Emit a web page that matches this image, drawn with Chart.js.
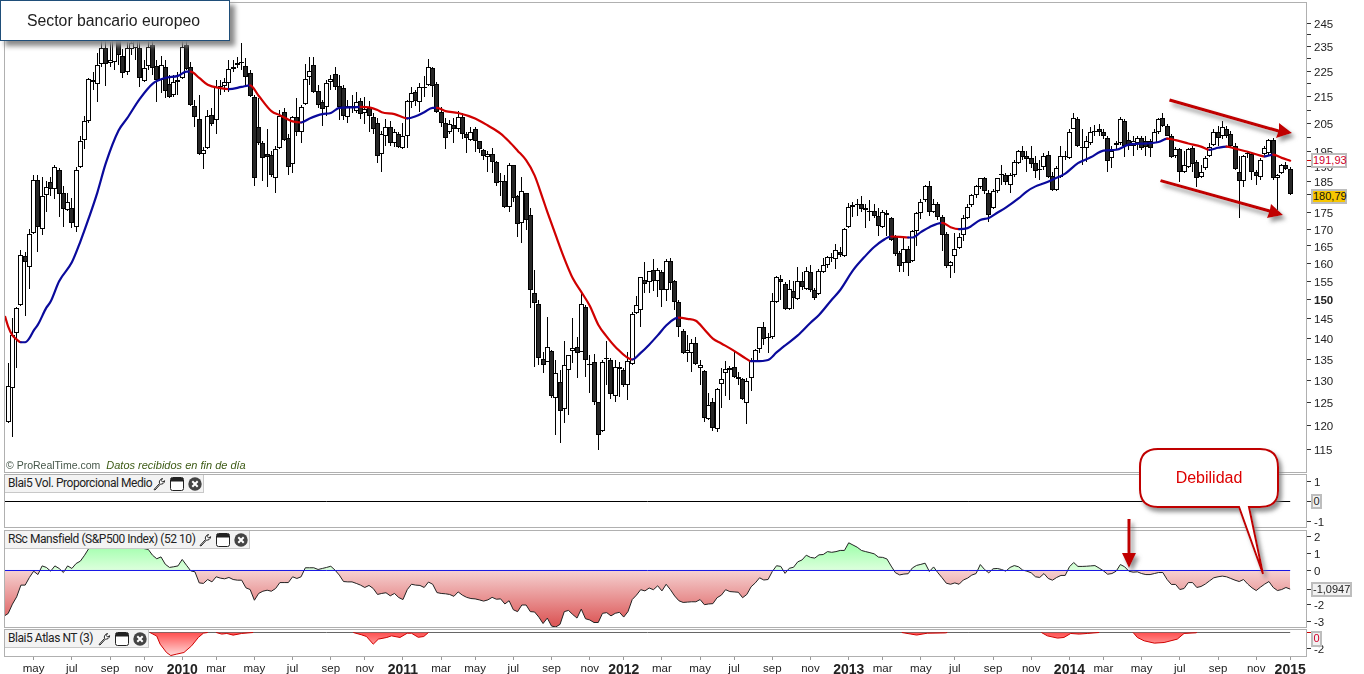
<!DOCTYPE html>
<html><head><meta charset="utf-8">
<script src="https://cdn.jsdelivr.net/npm/chart.js@4/dist/chart.umd.min.js"></script>
<style>
html,body{margin:0;padding:0;background:#fff;width:1364px;height:674px;overflow:hidden;font-family:"Liberation Sans",Arial,sans-serif}
canvas{position:absolute;left:0}
.frame{position:absolute;left:4px;width:1303px;border:1px solid #b0b0b0;box-sizing:border-box;pointer-events:none}
.hdr{position:absolute;left:5px;background:#f3f3f3;border-right:1px solid #c8c8c8;border-bottom:1px solid #c8c8c8;box-sizing:border-box;font-family:Roboto,"Liberation Sans",sans-serif;font-size:12px;letter-spacing:-.45px;color:#222;line-height:17px;padding-left:3px;white-space:nowrap}
.hdr svg{position:absolute;top:2px}
.val{position:absolute;left:1311px;height:15px;border:2px solid #bdbdbd;box-sizing:border-box;font-size:11px;line-height:11px;text-align:center;background:#f1f1f1;color:#222;white-space:nowrap}
#title{position:absolute;left:0;top:0;width:230px;height:41px;background:#fff;border:1px solid #1f4e79;box-sizing:border-box;box-shadow:5px 5px 5px #8a8a8a;font-size:15.8px;color:#222;line-height:40px;padding-left:26px}
#foot{position:absolute;left:6px;top:459px;font-size:10.5px;line-height:13px;color:#46574a;white-space:nowrap}
#foot i{color:#3c5a14;font-size:11px;margin-left:6px}
#over{position:absolute;left:0;top:0}
</style></head><body>
<canvas id="cMain" width="1364" height="472" style="top:0"></canvas>
<canvas id="cVol" width="1364" height="53" style="top:474px"></canvas>
<canvas id="cRs" width="1364" height="97" style="top:530px"></canvas>
<canvas id="cAtlas" width="1364" height="45" style="top:629px"></canvas>
<div class="frame" style="top:2px;height:471px"></div>
<div class="frame" style="top:474px;height:54px"></div>
<div class="frame" style="top:530px;height:98px"></div>
<div class="frame" style="top:629px;height:28px"></div>
<div id="foot">© ProRealTime.com<i>Datos recibidos en fin de día</i></div>
<div id="hdrs"></div>
<div class="val" style="top:153px;width:36px;color:#d0002a;background:#fff">191,93</div>
<div class="val" style="top:189px;width:36px;color:#111;background:#f7c600">180,79</div>
<div class="val" style="top:494px;width:11px">0</div>
<div class="val" style="top:582px;width:41px">-1,0947</div>
<div class="val" style="top:631px;width:11px;height:16px;color:#d0002a">0</div>
<svg id="over" width="1364" height="674" xmlns="http://www.w3.org/2000/svg">
<defs><filter id="sh" x="-20%" y="-20%" width="150%" height="150%"><feDropShadow dx="3" dy="4" stdDeviation="2" flood-color="#777" flood-opacity=".8"/></filter></defs>
<g filter="url(#sh)" fill="#c00000">
<polygon points="1170,98.6 1169,101.4 1278,132.5 1276,138 1292,133 1279,123 1279,129.5"/>
<polygon points="1161,179.2 1160,182 1269,212.5 1267,218 1283,215 1271,204 1270,209.5"/>
<polygon points="1127.5,519 1130.5,519 1130.5,553 1136,553 1129,568 1122,553 1127.5,553"/>
<path d="M1158 449H1260Q1278 449 1278 467V491Q1278 507 1260 507H1249L1263 574L1239 507H1158Q1140 507 1140 489V467Q1140 449 1158 449Z" fill="#fff" stroke="#c00000" stroke-width="2"/>
</g>
<text x="1209" y="483" text-anchor="middle" font-family="Liberation Sans" font-size="16" fill="#dd0000">Debilidad</text>
</svg>
<div id="title">Sector bancario europeo</div>
<script>
// ---- weekly candles (euro-zone bank sector index) ----
const candleColor =
 "WWWWBWWBWW"+"BWBBWBWWWW"+"WWWBWWBBWW"+"WBWWBBWBBW"+"BWBBBBWWBW"+"WWWWWWBBBB"+
 "BBBWWBBWBW"+"WWBBBWWBBB"+"WBWBWBBBWW"+"BWBWWWBWWW"+"BBBBWBWBBW"+"BBBWBBWBWB"+
 "BWBBBBBWBW"+"BWWWBWBBBB"+"WBBWBBWWWW"+"BWBWBWBBBB"+"WWBWBWBWWW"+"WBBBWWWWBW"+
 "WWBBWBWBWB"+"BWWWWWBWWB"+"WBBWBBWBBB"+"BWBWWWWBWB"+"BBWWWWWWWW"+"BBWWWBWWWB"+
 "BBBBWBBWWW"+"WWBBWWWBBB"+"WWWBBWWBBB"+"WWBBBWBWWB"+"BWWWWBWBBB"+"BWBBBWWWBW"+"WBB";
const bodyHigh = [
128.7,140.8,147.9,162.5,162.2,168.4,185.6,185.6,180.2,183.1,
184.7,189.8,188.9,181.1,178.5,176.6,188.9,198.6,205.8,221.9,
221.5,227.5,234.6,234.6,229.6,240,237.9,231.2,234.6,236.7,
237.9,234.6,226.3,235,235.8,227.1,227.5,226.7,220,220.8,
221.5,235,235.8,226.7,211.5,206.5,195.7,207.7,208.1,218.8,
219.2,220.8,225.8,226.7,228.3,228.8,227.1,224.2,215,203.6,
197.9,194.4,194,196.1,207.7,209.2,200,207.3,207.3,211.2,
221.9,225,227.5,217.3,213.1,220.4,221.9,223.8,219.2,218.5,
211.5,211.5,213.1,213.5,210.4,210.8,207.3,205.4,201.1,203.9,
203.9,201.8,201.4,200.4,213.5,216.5,216.9,218.8,218.8,226.7,
226.3,220,209.2,205.4,205,204.6,207.3,207.3,201.1,202.1,
203.2,198.6,195.7,194.4,194.4,191.4,185,185.3,190.5,190.5,
180.2,181.8,181.1,174.4,151.8,148.9,135,138,137,131.7,
129.6,133.6,136,137.8,138,148.9,148.2,133.8,134.3,125,
134.3,135.3,134.8,133.1,133.1,132.4,134.5,146.3,148.7,156.1,
155.3,157.8,158,158,157.5,160.8,160.8,155,149.5,141.8,
137.3,138.8,139,133.6,132.2,124.4,125.2,128,130.3,132.7,
132.9,133.1,130.8,130.3,129.9,134.5,137.3,143,143,140.5,
149.7,156.1,155.6,154.2,152.9,152.4,155,155,157.8,157.5,
152.6,157.8,159.4,161.7,161.9,163.9,163.3,170,176.9,177.3,
177.9,177.9,176.6,175.6,175.6,174,175.3,175,173.4,167.5,
163,164.2,164.2,169.4,175,178.5,183.4,183.4,177.9,177.9,
173.8,168.4,160.3,164.2,167.5,173.4,176.9,180.5,183.4,186,
186,181.4,181.8,186,187.6,187.3,187.3,191.4,195.4,195.4,
193.4,192.7,191.1,189.2,193.4,194,186.9,189.5,193.4,193.7,
202.1,207,206.5,196.8,198.6,201.8,202.5,202.9,201.8,200,
195.4,197.9,206.5,205.8,199.3,198.9,200,200,198.9,198.9,
201.8,206.5,206.9,204.3,200.7,196.1,196.1,190.5,196.1,196.4,
191.4,188.2,192.7,196.8,202.1,201.8,203.6,203.2,201.4,197.1,
188.2,193.4,194.7,194.4,188.2,192.1,196.4,199.3,199.3,187.3,
190.5,190.5,189.2];
const bodyLow = [
120.7,128.3,141.5,148.7,160.3,158.9,168.8,170.6,170,180.5,
182.7,182.4,180.8,176.3,176,171.9,170.6,189.8,199.3,205.8,
220.8,220,227.9,227.9,228.3,228.8,231.7,224.2,224.6,233.8,
234.6,222.3,221.2,227.1,226.3,221.5,221.5,217.3,215,215.8,
220.8,222.3,225.8,211.9,207.3,194.4,194.4,196.4,205,206.2,
218.8,219.2,220.4,225.8,227.5,228.3,222.7,215.4,186.3,197.9,
192.7,193.1,187,186.3,196.4,199.3,189.8,190.8,201.8,201.8,
212.3,222.7,216.9,211.9,210.4,211.2,220.8,218.8,211.2,207.7,
207.3,210.8,209.6,208.5,208.9,207.7,203.2,193.4,194.4,200.7,
198.2,198.2,196.8,196.4,200.7,213.1,213.5,213.1,218.5,219.6,
219.2,209.2,205.4,200,201.8,203.2,202.9,201.1,200,199.3,
198.9,196.1,193.4,193.1,191.4,184.4,184.7,176.9,176.9,179.8,
171.6,171.9,172.8,152.6,149.2,135.3,133.6,134.3,126.4,125.9,
123.1,123.5,132.4,137,136.5,136.8,134.8,133.6,125,118,
118.8,135,126.8,126.4,132.7,128.9,128.9,133.8,146.6,147.4,
154.2,154.7,155,155,152.6,152.6,154.5,149.5,142.8,136.5,
136.5,136.5,133.8,132.9,121.6,121.4,119.5,119.2,129.2,131.7,
132.4,130.8,130.3,125.7,124.8,130.6,134.5,137.5,140,140.3,
140.3,149.5,154.7,147.6,147.6,150.5,150.3,153.4,152.9,152.6,
150.5,151.6,157.5,159.4,161.7,161.1,162.5,162.2,170.6,176.9,
177.3,176.3,176,175.3,174,170.9,170.6,174.4,166.9,162.8,
159.2,160,160,160.6,169.4,175,178.9,175.3,175.3,173.8,
168.1,159.2,159.2,162.2,164.4,168.1,173.4,177.3,180.5,183.1,
181.8,174.4,176.6,181.8,187.3,184.7,184,187,191.1,193.1,
192.4,190.8,188.6,188.9,189.8,186.6,182.1,182.1,186.6,193.4,
192.7,203.2,197.1,196.4,196.4,198.2,201.8,201.8,200.4,191.8,
192.7,197.5,197.9,197.1,197.1,197.1,197.9,196.4,196.8,196.4,
198.2,201.8,204.3,200.7,193.1,193.4,188.2,188.2,189.8,190.8,
186,186.6,189.5,193.7,197.5,200,200.4,200.7,197.1,189.2,
185,185,194.4,188.2,186.9,186.6,194.4,194.7,186,186,
187.9,189.2,180.79];
const wickHigh = [
134.1,145.3,148,163.9,163.3,170,187.3,187.3,186.6,185,
186.6,190.5,189.5,183.4,181.4,179.8,189.8,200.7,207.9,222.3,
224.6,232.5,238.7,238.7,237.1,242.1,242.1,233.8,237.1,240,
240.8,237.9,229.6,237.9,238.7,229.6,231.2,229.6,223.5,223.5,
224.6,237.9,238.7,228.8,213.8,215.8,196.8,210,210.8,221.5,
221.5,222.3,229.6,229.6,230.8,236.7,230.4,225.4,215.8,214.6,
198.9,203.2,195.4,197.1,210,210.8,201.4,207.9,214.6,211.9,
228,230.8,230.8,219.6,213.8,221.5,223.5,226.7,223.5,219.6,
213.8,215.8,216.9,214.6,215,213.5,208.9,206.9,202.5,206.5,
205.8,203.2,201.8,205.4,213.8,218.8,217.7,220.4,223.1,230,
226.7,220.8,211.2,206.9,206.2,206.9,209.6,208.9,202.1,203.6,
203.6,198.9,196.1,195.4,196.4,191.8,187.9,187.3,191.1,190.5,
180.5,186.6,181.1,176.6,158,150,136.8,145.5,137.3,134.8,
132.4,139.3,136,145.3,140.3,152.4,148.7,136,136.3,125,
134.8,139.5,135.3,134.8,134.3,132.9,136.8,146.8,151.1,156.1,
160.3,157.8,161.1,158.6,158,161.1,161.4,155.3,150,142.3,
141,139.8,140.3,134.8,132.4,127.1,125.9,128.2,132.9,134.5,
133.4,137,132,130.6,130.6,135.3,137.5,143,144.3,141.5,
151.8,156.4,156.7,154.7,155.3,155,158.9,157.5,158.9,159.4,
153.2,158.3,161.4,162.2,163.1,165.6,164.7,170.3,178.2,178.5,
179.2,180.2,177.6,178.9,177.9,176.6,176,176,173.8,168.1,
163.6,167.5,165,169.7,175.3,179.2,184,185,179.2,178.5,
174.4,169.1,160.8,168.8,168.8,174.4,177.6,180.8,184,186.3,
186.6,182.1,182.4,186.3,190.5,187.9,187.9,192.1,195.7,197.1,
195.4,197.1,193.7,192.1,194.7,195.4,188.2,190.2,197.1,195.4,
202.9,208.9,207.3,203.2,200.7,203.6,204.6,205,202.9,200.7,
197.1,198.9,207.3,206.5,201.8,200.4,200.7,200.7,200.7,199.6,
203.2,206.9,208.9,205,201.4,196.8,196.4,195.4,196.4,197.1,
192.1,190.5,193.7,197.9,203.2,204.3,205.8,204.3,202.5,197.9,
193.7,194,195.4,195,188.9,192.7,197.1,199.6,200,187.6,
190.8,191.4,189.8];
const wickLow = [
120.5,117.6,132.9,148.4,145.8,152.9,168.4,163.3,168.1,175.3,
180.2,179.2,173.8,170.6,175.6,170.3,169.1,189.5,196.1,205.4,
217.7,213.1,226.7,219.2,226.7,225.4,227.5,222.3,223.5,231.7,
229.6,218.8,220.8,225.4,223.5,213.1,216.5,214.6,214.6,215,
215.8,221.9,225.4,211.5,203.6,194,189.2,196.1,204.3,201.4,
215.8,216.9,216.9,224.6,226.3,225.4,219.2,215,183.4,197.5,
185,183.1,186.6,181.4,196,198.9,187.3,187.9,200.7,197.9,
211.9,219.6,216.5,210.8,204.3,207.7,217.7,217.7,206.2,206.2,
205.4,208.9,208.9,206.5,205,201.8,201.4,191.1,188.3,197.1,
197.1,196.8,196.4,196.1,196.4,210.8,211.5,209.2,215,219.2,
215,208.9,203.6,196.1,201.1,198.2,202.1,199.6,194.7,198.6,
195,194.7,192.1,188.2,187.9,183.4,180.2,176.6,175.3,178.5,
167.5,165.9,169.7,147.9,133.1,133.6,131.7,134.3,125.9,118,
116.3,120.5,122.2,134.1,130.6,136.8,130.8,127.1,124.4,114.8,
118.6,128.9,125.7,125.2,126.2,128.5,125.5,133.6,146.3,143,
151.8,151.8,152.4,150.8,148.2,149.7,152.6,147.4,140.5,136.3,
134.3,132,133.6,128.9,120.7,121.2,118.8,118.6,123.7,126.4,
125.5,130.6,128.9,125.5,120.3,127.5,134.3,136.5,138.5,136.5,
140,149.2,150,147.4,147.4,147.6,150,152.6,152.6,152.1,
150,151.3,157.2,158.6,160.3,158.3,161.7,161.7,170.3,173.8,
174,175.3,170.3,172.5,173.4,167.8,170.3,167.8,166.6,162.2,
157.5,157.5,156.4,160.3,165,173.1,178.5,174,175,172.8,
163.6,158.6,155.8,157.2,164.2,166.6,173.1,176.9,179.8,182.4,
180.8,172.2,176.3,181.4,184,184,181.4,186.6,190.8,192.1,
188.2,189.5,186.3,185.6,188.9,186.3,181.8,181.8,186.3,192.1,
192.4,202.9,196.8,190.5,191.4,197.5,200.7,200.7,199.6,188.2,
189.5,195.7,197.5,193.1,195.7,193.7,195.7,195.7,193.7,193.1,
197.9,201.4,203.9,200.4,192.7,192.7,184.7,187.9,189.5,188.2,
183.1,186.3,188.9,193.1,197.1,197.1,199.6,200,196.4,188.9,
173.4,183.1,192.7,185.6,184,185.6,194,193.7,185.6,176,
187.6,188.9,180.5];
// ---- moving average, sampled where the curve bends ----
const maWeeks = [-0.7,0,1,2,3,4,5,6,7,9,10,12,15,17,19,21,23,26,28,31,34,37,40,42,43,45,47,50,52,55,57,59,62,64,67,69,71,74,76,78,81,83,85,87,88,91,94,96,98,100,101,103,106,110,113,116,118,120,122,124,126,127,129,131,133,135,137,139,141,143,147,149,151,153,155,157,158,160,162,164,166,168,171,174,175,176,179,181,183,186,189,191,194,196,199,202,204,206,208,210,212,213,215,217,220,222,224,226,229,231,233,235,238,240,242,244,246,249,252,255,258,261,264,268,271,273,275,278,281,283,285,287,289,292,295,296,298,300,302];
const maValues = [145.5,143,140.8,139.8,139.1,139.1,140.1,142,143.5,147.9,149.5,155,160.3,166.3,173.4,181.4,191.1,202.5,206.9,214.2,220,222.3,223.1,224.8,224.8,222.3,219.6,218.3,217.9,218.8,219.4,215.4,209.6,208.1,205.8,205.4,206.9,208.5,208.9,210.8,211,211.2,211,210,209.2,208.5,206.9,207.7,209.2,210.8,210.8,209.6,208.9,206.9,204.3,201.4,198.6,195.4,192.1,187,179.2,175.3,168.1,161.4,155.8,152.1,148.4,143.5,140.5,138,134.9,136.5,138.5,140.8,143.3,145,145.3,145,144.5,142.3,140,138.8,137,135,134.5,134.5,134.8,136.6,138.3,140.8,144,146,150,152.6,158,162.2,164.7,166.6,167.8,167.7,167.5,167.5,169.1,170.6,171.9,170.6,170,170.3,172.8,173.4,175,176.6,179.5,181.8,183.4,184.4,185.6,187.6,191.1,193.1,195.4,195.7,197.5,197.9,198.4,199.6,199.1,197.9,196.8,195.7,196.4,196.8,196.1,195,193.7,193.4,194,192.9,191.93];
// ---- RSc Mansfield, one value per week ----
const rsAtLeftEdge = -2.65;
const rsValues = [
-2.53,-1.98,-1.55,-0.86,-0.86,-0.41,-0.04,-0.24,0.27,0.18,
-0.04,0.27,0.12,-0.12,0.27,0.12,0.41,0.55,0.9,1.3,
1.6,1.8,1.9,1.7,1.9,2.1,1.9,1.8,1.7,1.9,
1.8,1.7,1.29,1.24,0.9,0.69,0.8,0.37,0.18,0.22,
0.27,0.65,0.31,-0.02,-0.08,-0.73,-0.76,-0.53,-0.67,-0.37,
-0.45,-0.49,-0.41,-0.53,-0.57,-0.57,-1.02,-1.12,-1.75,-1.35,
-1.22,-1.16,-1.22,-1.06,-0.71,-0.71,-0.71,-0.37,-0.47,-0.37,
0.16,0.16,0.16,0.06,0.12,0.18,0.25,0.02,-0.27,-0.65,
-0.67,-0.67,-0.76,-0.86,-1,-0.88,-1.06,-1.41,-1.35,-1.31,
-1.49,-1.35,-1.59,-1.71,-1.13,-0.81,-0.86,-0.88,-1,-0.68,
-0.81,-1.3,-1.35,-1.37,-1.41,-1.52,-1.26,-1.45,-1.58,-1.65,
-1.67,-1.73,-1.8,-1.73,-1.58,-1.69,-1.67,-1.97,-1.78,-2.31,
-2.42,-2.03,-2.03,-2.42,-2.44,-2.74,-3.12,-2.8,-3.27,-3.32,
-3.17,-2.42,-2.35,-2.59,-2.8,-2.27,-2.84,-2.91,-3.06,-3.06,
-2.52,-2.48,-2.67,-2.52,-2.46,-2.74,-2.42,-1.71,-1.45,-1.13,
-1.2,-1.03,-1.13,-0.9,-1.2,-0.81,-1.13,-1.5,-1.78,-1.88,
-1.86,-1.84,-1.84,-1.71,-2.01,-1.97,-1.95,-1.6,-1.45,-1.13,
-1.24,-1.26,-1.28,-1.6,-1.41,-0.96,-0.73,-0.43,-0.56,-0.53,
-0.06,0.28,0.24,-0.17,0.13,0.19,0.51,0.62,0.9,0.77,
0.73,0.92,0.94,1.11,1.07,1.11,1.18,1.18,1.63,1.5,
1.37,1.18,1.11,1.05,0.98,0.79,0.77,0.68,0.26,-0.13,
-0.26,-0.21,-0.19,0.15,0.3,0.36,0.43,-0.06,0.21,-0.13,
-0.43,-0.75,-0.81,-0.73,-0.81,-0.56,-0.45,-0.27,-0.18,0.35,
0.06,-0.14,0.1,0.12,0.06,-0.04,0.18,0.29,0.22,0.02,
-0.04,-0.14,-0.37,-0.41,-0.18,-0.47,-0.57,-0.41,-0.29,-0.29,
0.22,0.47,0.24,0.24,0.25,0.27,0.29,0.14,-0.02,-0.22,
-0.18,-0.04,0.35,0.22,-0.04,-0.1,-0.08,-0.18,-0.24,-0.24,
-0.18,-0.12,-0.12,-0.53,-0.82,-0.82,-1.12,-1.06,-0.71,-0.71,
-1,-0.94,-0.8,-0.61,-0.43,-0.37,-0.33,-0.37,-0.47,-0.57,
-0.65,-0.53,-0.8,-1.02,-1.18,-0.98,-0.8,-0.65,-1,-1.18,
-1.12,-1,-1.0947];
// ---- Blai5 Atlas NT, sampled; null separates the episodes ----
const atlasWeeks = [33.4,35,35.8,37.3,38.3,39.7,41.4,43.2,44.8,46,47,48, 49,50.3,51.5,53,55,57.7,58, 81.3,83.3,84.4,86,87.2,89.2,90.3,92.3,94,95,96.6,97.9,99,100, 210.5,214,216.5,220.8,221.2,222, 243.4,244.8,247.2,248.7,250.3,252.3,254.2,257,258, 265,266,267.6,270,272.3,275.4,277,279.8,280];
const atlasValues = [0,-0.45,-1.46,-2.5,-2.88,-2.7,-2.5,-1.67,-0.62,-0.08,0,null, 0,-0.2,-0.12,-0.33,-0.12,0,null, 0,-0.3,-0.5,-1.46,-0.83,-0.62,-0.42,-0.62,-0.09,-0.09,-0.6,-0.5,0,null, 0,-0.32,-0.09,-0.05,0,null, 0,-0.42,-0.7,-0.62,-0.12,-0.2,-0.12,0,null, 0,-0.62,-1.04,-1.33,-1.25,-0.83,-0.12,-0.04,0];
// ---- axes ----
const priceTicks = [245,240,235,230,225,220,215,210,205,200,195,191.93,190,185,180.79,175,170,165,160,155,150,145,140,135,130,125,120,115];
const priceUnlabelled = [240,230,220,210,200,191.93,180.79];
const volTicks = [1,0,-1];
const rsTicks = [2,1,0,-1.0947,-2,-3];
const atlasTicks = [0,-2];
const monthTickWeeks = [6,15,24,32,41,49,58,67,76,84,93,102,110,119,128,137,145,154,163,171,180,189,198,206,215,223,232,241,250,258,267,276,285,294,302];
const monthTickLabels = ["may","jul","sep","nov","2010","mar","may","jul","sep","nov","2011","mar","may","jul","sep","nov","2012","mar","may","jul","sep","nov","2013","mar","may","jul","sep","nov","2014","mar","may","jul","sep","nov","2015"];

const FONT = '"Liberation Sans",Arial,sans-serif';
const XMIN = -0.75, XMAX = 305.96;
const noPad = s => { s.width = 57; s.paddingTop = 0; s.paddingBottom = 0; };
const hiddenX = {type:'linear', display:false, min:XMIN, max:XMAX, offset:false, grid:{display:false}};
const base = {animation:false, responsive:false, devicePixelRatio:1, maintainAspectRatio:false,
  plugins:{legend:{display:false}, tooltip:{enabled:false}}, events:[],
  elements:{point:{radius:0}}};
const yAxis = (extra, ticks, label, tickCol) => Object.assign({
  position:'right', border:{display:false},
  grid:{drawOnChartArea:false, drawTicks:true, tickLength:4, color:'#333',
        tickColor: tickCol || '#333'},
  afterBuildTicks: a => { a.ticks = ticks.map(v => ({value:v})); },
  afterFit: noPad,
  ticks:{autoSkip:false, padding:3, color:'#222', maxRotation:0, labelOffset:1.5,
    font: c => ({family:FONT, size:11.5, weight: (c.tick && c.tick.value===150) ? 'bold':'normal'}),
    callback: label}
}, extra);

// keeps candle outlines on whole pixels, as the trading terminal draws them
const crispCandles = {id:'crispCandles', beforeDatasetDraw(chart, args){
  const meta = args.meta;
  if (meta.type !== 'bar') return;
  meta.data.forEach(el => {
    el.x = Math.floor(el.x) + 0.5;
    el.y = Math.round(el.y);
    el.base = Math.round(el.base);
    if (el.y === el.base) el.base = el.y + 1;
  });
}};

// main price panel
const idx = candleColor.split('').map((_,i)=>i);
const wicks = idx.map(i => ({x:i, y:[wickLow[i], wickHigh[i]]}));
const whites = idx.filter(i=>candleColor[i]==='W').map(i => ({x:i, y:[bodyLow[i], bodyHigh[i]]}));
const blacks = idx.filter(i=>candleColor[i]==='B').map(i => ({x:i, y:[bodyLow[i], bodyHigh[i]]}));
new Chart(document.getElementById('cMain'), {type:'bar', plugins:[crispCandles], data:{datasets:[
  {type:'line', data:maWeeks.map((w,i)=>({x:w,y:maValues[i]})), borderWidth:2.2, order:0, cubicInterpolationMode:'monotone', borderColor:'#0a0a9c',
   segment:{borderColor:c => c.p1.parsed.y < c.p0.parsed.y ? '#d00000' : '#0a0a9c'}, pointRadius:0, borderCapStyle:'round', borderJoinStyle:'round'},
  {data:whites, grouped:false, barThickness:5, backgroundColor:'#fff', borderColor:'#000', borderWidth:1, borderSkipped:false, inflateAmount:0, order:1},
  {data:blacks, grouped:false, barThickness:5, backgroundColor:'#262626', borderColor:'#000', borderWidth:1, borderSkipped:false, inflateAmount:0, order:1},
  {data:wicks, grouped:false, barThickness:1, backgroundColor:'#000', borderWidth:0, inflateAmount:0, order:2}
]}, options:Object.assign({}, base, {layout:{padding:{top:3,left:5,right:0,bottom:0}}, scales:{
  x:hiddenX,
  y:yAxis({type:'logarithmic', min:110.5, max:253.9}, priceTicks,
     v => priceUnlabelled.includes(v) ? '' : String(v),
     c => c.tick && c.tick.value===191.93 ? '#d00000' : '#333')
}})});
const lastWeek = 302;
// volume panel
new Chart(document.getElementById('cVol'), {type:'line', data:{datasets:[
  {data:[{x:XMIN,y:0},{x:lastWeek,y:0}], borderColor:'#000', borderWidth:1, pointRadius:0}
]}, options:Object.assign({}, base, {layout:{padding:{left:5}}, scales:{
  x:hiddenX, y:yAxis({min:-1.275,max:1.375}, volTicks, v => v===0 ? '' : String(v))
}})});
// RS panel
const rsCtx = document.getElementById('cRs').getContext('2d');
const gG = rsCtx.createLinearGradient(0,0,0,40); gG.addColorStop(0,'#7dff90'); gG.addColorStop(1,'#dcffdc');
const gR = rsCtx.createLinearGradient(0,40,0,93); gR.addColorStop(0,'#f6d2d2'); gR.addColorStop(1,'#dc5a5a');
new Chart(rsCtx, {type:'line', data:{datasets:[
  {data:[{x:XMIN,y:0},{x:lastWeek,y:0}], borderColor:'#1414e6', borderWidth:1, pointRadius:0, order:0},
  {data:[{x:XMIN,y:rsAtLeftEdge}].concat(rsValues.map((v,i)=>({x:i,y:v}))), borderColor:'#222', borderWidth:1, pointRadius:0, tension:0, order:1,
   fill:{target:{value:0}, above:gG, below:gR}}
]}, options:Object.assign({}, base, {layout:{padding:{left:5}}, scales:{
  x:hiddenX, y:yAxis({min:-3.324,max:2.382}, rsTicks, v => v===-1.0947 ? '' : String(v))
}})});
// Atlas panel with the time axis
const atCtx = document.getElementById('cAtlas').getContext('2d');
const gA = atCtx.createLinearGradient(0,3,0,27); gA.addColorStop(0,'#ff4c4c'); gA.addColorStop(1,'#ffdcdc');
new Chart(atCtx, {type:'line', data:{datasets:[
  {data:atlasWeeks.map((w,i)=>({x:w,y:atlasValues[i]})), borderColor:'#d00000', borderWidth:1, pointRadius:0, tension:0, spanGaps:false, order:0,
   fill:{target:{value:0}, below:gA, above:'rgba(0,0,0,0)'}},
  {data:[{x:XMIN,y:0},{x:lastWeek,y:0}], borderColor:'#666', borderWidth:1, pointRadius:0, order:1}
]}, options:Object.assign({}, base, {layout:{padding:{left:5}}, scales:{
  x:{type:'linear', min:XMIN, max:XMAX, offset:false, position:'bottom', border:{display:false},
     grid:{drawOnChartArea:false, tickLength:4, color:'#999'},
     afterBuildTicks:a=>{a.ticks = monthTickWeeks.map(v=>({value:v}));},
     afterFit:s=>{s.height=18; s.paddingLeft=0; s.paddingRight=0;},
     ticks:{autoSkip:false, maxRotation:0, padding:2, color:'#222',
       font:c=>{const l=c.tick?monthTickLabels[monthTickWeeks.indexOf(c.tick.value)]:''; return /^\d/.test(l||'')?{family:FONT,size:14,weight:'bold'}:{family:FONT,size:11.5};},
       callback:v=>monthTickLabels[monthTickWeeks.indexOf(v)]}},
  y:yAxis({min:-2.9375,max:0.4375}, atlasTicks, v => v===0 ? '' : String(v), c => c.tick && c.tick.value===0 ? '#d00000' : '#333')
}})});
// indicator headers
const ICONS = (x)=>`
<svg style="left:${x}px" width="14" height="14" viewBox="0 0 14 14"><path d="M2 12.5 7.5 6.5C6.8 4.5 8 2 10.5 1.5L9.2 3.6 10.6 5 12.6 3.7C12.6 6 10.3 7.6 8.5 7L3 13Z" fill="#fff" stroke="#222" stroke-width="1"/></svg>
<svg style="left:${x+18}px" width="14" height="14" viewBox="0 0 14 14"><rect x=".5" y=".5" width="13" height="13" rx="2" fill="#fff" stroke="#222"/><rect x="1" y="1" width="12" height="3.5" fill="#222"/></svg>
<svg style="left:${x+36}px" width="14" height="14" viewBox="0 0 14 14"><circle cx="7" cy="7" r="6.7" fill="#444"/><path d="M4.3 4.3 9.7 9.7M9.7 4.3 4.3 9.7" stroke="#fff" stroke-width="2"/></svg>`;
const headerTexts = ["Blai5 Vol. Proporcional Medio","RSc Mansfield (S&P500 Index) (52 10)","Blai5 Atlas NT (3)"];
[[475,199,147],[531,245,193],[630,144,92]].forEach((h,i)=>{
  const d=document.createElement('div'); d.className='hdr';
  d.style.cssText=`top:${h[0]}px;width:${h[1]}px;height:18px`;
  d.textContent=headerTexts[i];
  d.insertAdjacentHTML('beforeend',ICONS(h[2]));
  document.getElementById('hdrs').appendChild(d);
});
</script>
</body></html>
